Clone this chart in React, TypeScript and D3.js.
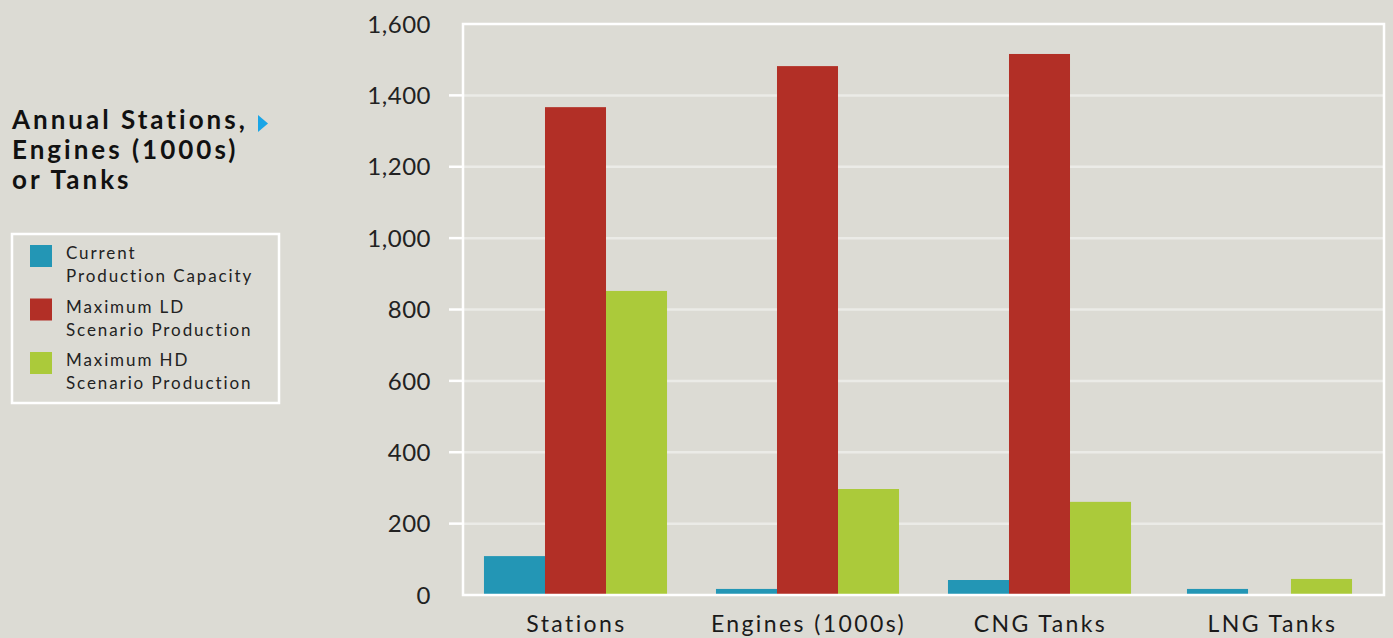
import React from 'react';
import * as d3 from 'd3';

// chart data
const categories = ['Stations', 'Engines (1000s)', 'CNG Tanks', 'LNG Tanks'];
const seriesNames = ['Current Production Capacity', 'Maximum LD Scenario Production', 'Maximum HD Scenario Production'];
const currentCapacity = [109, 17, 42, 17];
const maxLD = [1367, 1482, 1516, null];
const maxHD = [852, 297, 261, 45];
const yTicks = [0, 200, 400, 600, 800, 1000, 1200, 1400, 1600];

const legendLines = [
  ['Current', 'Production Capacity'],
  ['Maximum LD', 'Scenario Production'],
  ['Maximum HD', 'Scenario Production'],
];
const titleLines = ['Annual Stations,', 'Engines (1000s)', 'or Tanks'];

const colors = ['#2396b5', '#b22f26', '#abca3a'];
const BG = '#dcdbd4';
const FONT = 'Lato, "Noto Sans", sans-serif';

const W = 1393;
const H = 638;
const plot = { left: 463, right: 1384, top: 24, bottom: 595 };

export default function App() {
  const series = [currentCapacity, maxLD, maxHD];

  const y = d3.scaleLinear().domain([0, 1600]).range([plot.bottom, plot.top]);

  const x = d3.scaleBand<string>()
    .domain(categories)
    .range([459.5, 1387.5])
    .paddingInner(0.211)
    .paddingOuter(0.1055);

  const fmt = d3.format(',');

  const bars: { key: string; x: number; w: number; y: number; h: number; color: string }[] = [];
  categories.forEach((cat, ci) => {
    const present = series.map((s, si) => si).filter((si) => series[si][ci] != null);
    // groups with a missing series keep bar width but spread the remaining bars
    const full = present.length === series.length;
    const inner = d3.scaleBand<number>()
      .domain(present)
      .range(full ? [0, x.bandwidth()] : [7, x.bandwidth() - 11])
      .paddingInner(full ? 0 : 0.413);
    present.forEach((si) => {
      const v = series[si][ci] as number;
      bars.push({
        key: `${cat}-${si}`,
        x: (x(cat) ?? 0) + (inner(si) ?? 0),
        w: inner.bandwidth(),
        y: y(v),
        h: y(0) - y(v),
        color: colors[si],
      });
    });
  });

  return (
    <svg width={W} height={H} style={{ position: 'absolute', left: 0, top: 0, background: BG }}>
      <rect x={0} y={0} width={W} height={H} fill={BG} />

      {/* gridlines and tick marks */}
      {yTicks.filter((t) => t > 0 && t < 1600).map((t) => (
        <g key={t}>
          <line x1={plot.left} x2={plot.right} y1={y(t)} y2={y(t)} stroke="#ebebe7" strokeWidth={2.5} />
          <line x1={449} x2={plot.left} y1={y(t)} y2={y(t)} stroke="#ffffff" strokeWidth={2.5} />
        </g>
      ))}

      {/* bars */}
      {bars.map((b) => (
        <rect key={b.key} x={b.x} y={b.y} width={b.w} height={b.h} fill={b.color} />
      ))}

      {/* frame */}
      <rect x={plot.left} y={plot.top} width={plot.right - plot.left} height={plot.bottom - plot.top}
        fill="none" stroke="#ffffff" strokeWidth={2.5} />

      {/* y tick labels */}
      {yTicks.map((t) => (
        <text key={t} x={431} y={y(t)} dy="0.36em" textAnchor="end" fontFamily={FONT}
          fontSize={24} fill="#222" letterSpacing={0.5}>{fmt(t)}</text>
      ))}

      {/* category labels */}
      {categories.map((c) => (
        <text key={c} x={(x(c) ?? 0) + x.bandwidth() / 2 + 1} y={632} textAnchor="middle"
          fontFamily={FONT} fontSize={23} fill="#1a1a1a" letterSpacing={2.4}>{c}</text>
      ))}

      {/* title */}
      {titleLines.map((l, i) => (
        <text key={l} x={12} y={129 + i * 30} fontFamily={FONT} fontSize={26} fontWeight={700}
          fill="#111" letterSpacing={3}>{l}</text>
      ))}
      <path d="M258,115 L268,123.5 L258,132 Z" fill="#1aa5e6" />

      {/* legend */}
      <rect x={12} y={234} width={267} height={169} fill="none" stroke="#ffffff" strokeWidth={2.5} />
      {legendLines.map((lines, i) => (
        <g key={i} transform={`translate(0, ${i * 53.5})`}>
          <rect x={30} y={245} width={22} height={22} fill={colors[i]} />
          {lines.map((l, j) => (
            <text key={j} x={66} y={259 + j * 23} fontFamily={FONT} fontSize={17} fill="#222"
              letterSpacing={1.9}>{l}</text>
          ))}
          <title>{seriesNames[i]}</title>
        </g>
      ))}
    </svg>
  );
}
